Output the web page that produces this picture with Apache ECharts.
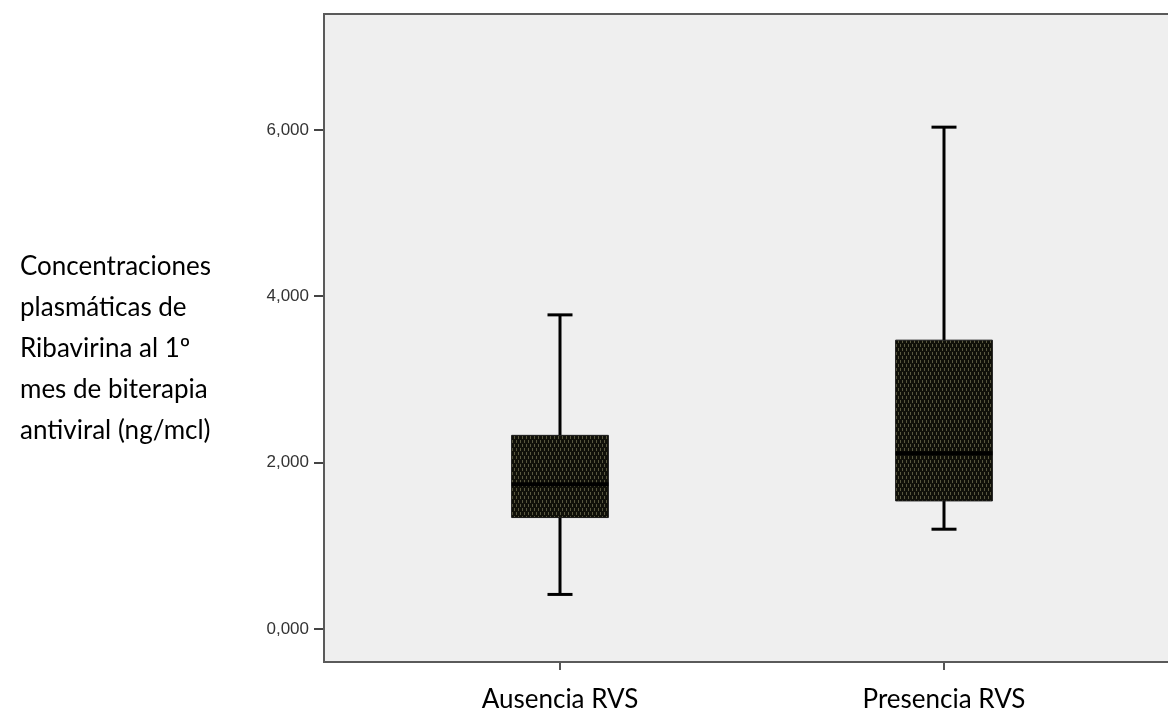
<!DOCTYPE html>
<html>
<head>
<meta charset="utf-8">
<title>Ribavirina</title>
<script src="https://cdn.jsdelivr.net/npm/echarts@6/dist/echarts.min.js"></script>
<style>
  html, body { margin: 0; padding: 0; background: #ffffff; }
  #chart { width: 1168px; height: 713px; }
</style>
</head>
<body>
<div id="chart"></div>
<script>
// Groups and box-plot statistics (ng/mcl)
const categories = ['Ausencia RVS', 'Presencia RVS'];
const whiskerLow = [0.416, 1.200];
const quartile1 = [1.340, 1.540];
const medians = [1.740, 2.112];
const quartile3 = [2.328, 3.472];
const whiskerHigh = [3.776, 6.032];
const yTicks = [0, 2, 4, 6];
const yTitleLines = [
  'Concentraciones',
  'plasmáticas de',
  'Ribavirina al 1º',
  'mes de biterapia',
  'antiviral (ng/mcl)'
];

// Dark hatched fill used for the boxes
function makePattern() {
  const c = document.createElement('canvas');
  c.width = 4; c.height = 8;
  const g = c.getContext('2d');
  g.fillStyle = '#101009';
  g.fillRect(0, 0, 4, 8);
  g.fillStyle = '#58573f';
  g.fillRect(0, 0, 1, 3);
  g.fillRect(2, 4, 1, 3);
  return c;
}
const boxFill = { image: makePattern(), repeat: 'repeat' };

const boxData = categories.map((c, i) => [i, whiskerLow[i], quartile1[i], medians[i], quartile3[i], whiskerHigh[i]]);

const chart = echarts.init(document.getElementById('chart'), null, { renderer: 'canvas' });

// Plot frame geometry (pixels)
const frameLeft = 324, frameTop = 14, frameRight = 1180, frameBottom = 662;
const yMin = -0.384, yMax = 7.392;

chart.setOption({
  animation: false,
  backgroundColor: '#ffffff',
  grid: {
    left: 368,
    right: 1168 - 1136,
    top: frameTop,
    bottom: 713 - frameBottom,
    containLabel: false
  },
  xAxis: {
    type: 'category',
    data: categories,
    axisLine: { show: false, onZero: false },
    axisTick: { show: true, alignWithLabel: true, length: 9, lineStyle: { color: '#555555', width: 2 } },
    axisLabel: { fontFamily: 'Lato, "Open Sans", sans-serif', fontSize: 26, color: '#000000', margin: 26 },
    splitLine: { show: false }
  },
  yAxis: {
    type: 'value',
    min: yMin,
    max: yMax,
    offset: 368 - frameLeft,
    axisLine: { show: false },
    axisTick: { show: true, customValues: yTicks, length: 10, lineStyle: { color: '#444444', width: 2 } },
    axisLabel: {
      customValues: yTicks,
      fontFamily: 'Arial, "Liberation Sans", sans-serif',
      fontSize: 17,
      color: '#333333',
      margin: 15,
      formatter: v => v.toFixed(3).replace('.', ',')
    },
    splitLine: { show: false }
  },
  graphic: [
    {
      type: 'rect', z: -10, silent: true,
      shape: { x: frameLeft, y: frameTop, width: frameRight - frameLeft, height: frameBottom - frameTop },
      style: { fill: '#efefef' }
    },
    {
      type: 'polyline', z: 10, silent: true,
      shape: { points: [[frameRight, frameTop], [frameLeft, frameTop], [frameLeft, frameBottom], [frameRight, frameBottom]] },
      style: { stroke: '#5a5a5a', lineWidth: 2, fill: null }
    },
    {
      type: 'text', z: 10, silent: true,
      left: 20, top: 246,
      style: {
        text: yTitleLines.join('\n'),
        fontFamily: 'Lato, "Open Sans", sans-serif',
        fontSize: 26,
        lineHeight: 41,
        fill: '#000000'
      }
    }
  ],
  series: [{
    type: 'custom',
    data: boxData,
    encode: { x: 0, y: [1, 2, 3, 4, 5] },
    renderItem: function (params, api) {
      const idx = api.value(0);
      const band = api.size([1, 0])[0];
      const half = band * 0.126;
      const cap = 12.5;
      const pLow = api.coord([idx, api.value(1)]);
      const pQ1 = api.coord([idx, api.value(2)]);
      const pMed = api.coord([idx, api.value(3)]);
      const pQ3 = api.coord([idx, api.value(4)]);
      const pHigh = api.coord([idx, api.value(5)]);
      const cx = pMed[0];
      const lineStyle = { stroke: '#000000', lineWidth: 3 };
      return {
        type: 'group',
        children: [
          { type: 'line', shape: { x1: cx, y1: pHigh[1], x2: cx, y2: pQ3[1] }, style: lineStyle },
          { type: 'line', shape: { x1: cx, y1: pQ1[1], x2: cx, y2: pLow[1] }, style: lineStyle },
          { type: 'line', shape: { x1: cx - cap, y1: pHigh[1], x2: cx + cap, y2: pHigh[1] }, style: lineStyle },
          { type: 'line', shape: { x1: cx - cap, y1: pLow[1], x2: cx + cap, y2: pLow[1] }, style: lineStyle },
          {
            type: 'rect',
            shape: { x: cx - half, y: pQ3[1], width: half * 2, height: pQ1[1] - pQ3[1] },
            style: { fill: boxFill, stroke: '#1a1a1a', lineWidth: 1 }
          },
          { type: 'line', shape: { x1: cx - half, y1: pMed[1], x2: cx + half, y2: pMed[1] }, style: { stroke: '#000000', lineWidth: 4 } }
        ]
      };
    }
  }]
});
</script>
</body>
</html>
